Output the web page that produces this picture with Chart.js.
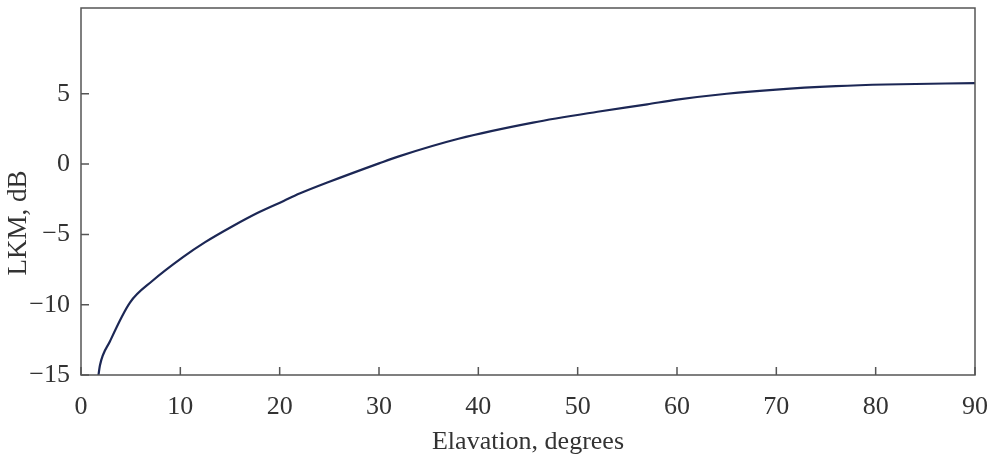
<!DOCTYPE html>
<html>
<head>
<meta charset="utf-8">
<script src="https://cdn.jsdelivr.net/npm/chart.js@4"></script>
<style>
  html, body { margin: 0; padding: 0; background: #fff; }
  #wrap { width: 990px; height: 458px; }
</style>
</head>
<body>
<div id="wrap"><canvas id="chart"></canvas></div>
<script>
// values
const elevation = [1.72, 1.91, 2.92, 4.93, 7.2, 10.3, 12.5, 15.3, 17.8, 20.4, 22, 25, 30, 32, 38, 45.5, 52, 57, 60, 65, 70, 76, 81, 90];
const lkm       = [-15.2, -14.3, -12.6, -9.85, -8.3, -6.6, -5.55, -4.4, -3.46, -2.62, -2.1, -1.26, 0.05, 0.55, 1.8, 2.95, 3.72, 4.25, 4.58, 5.0, 5.3, 5.54, 5.66, 5.76];
const xTicks = [0, 10, 20, 30, 40, 50, 60, 70, 80, 90];
const yTicks = [-15, -10, -5, 0, 5];
const yTitle = 'LKM, dB';

const FONT = '"Liberation Serif", "DejaVu Serif", serif';
const INK = '#333';

// frame round the plot, short inward ticks, rotated y title
const framePlugin = {
    id: 'frame',
    afterDraw(chart) {
        const { ctx, chartArea: a, scales } = chart;
        ctx.save();
        ctx.strokeStyle = '#555';
        ctx.lineWidth = 1.5;
        ctx.strokeRect(a.left, a.top, a.right - a.left, a.bottom - a.top);
        ctx.beginPath();
        for (const v of yTicks) {
            const y = scales.y.getPixelForValue(v);
            ctx.moveTo(a.left, y);
            ctx.lineTo(a.left + 8, y);
        }
        for (const v of xTicks) {
            const x = scales.x.getPixelForValue(v);
            ctx.moveTo(x, a.bottom);
            ctx.lineTo(x, a.bottom - 8);
        }
        ctx.stroke();

        ctx.translate(18.5, 223);
        ctx.rotate(-Math.PI / 2);
        ctx.fillStyle = INK;
        ctx.font = '27px ' + FONT;
        ctx.textAlign = 'center';
        ctx.textBaseline = 'middle';
        ctx.fillText(yTitle, 0, 0);
        ctx.restore();
    },
};

new Chart(document.getElementById('chart'), {
    type: 'line',
    data: {
        datasets: [{
            data: elevation.map((x, i) => ({ x, y: lkm[i] })),
            borderColor: '#1c2755',
            borderWidth: 2.2,
            pointRadius: 0,
            cubicInterpolationMode: 'monotone',
            fill: false,
        }],
    },
    options: {
        responsive: true,
        maintainAspectRatio: false,
        animation: false,
        layout: { padding: { top: 8, right: 15, left: 0, bottom: 0 } },
        plugins: { legend: { display: false }, tooltip: { enabled: false } },
        scales: {
            x: {
                type: 'linear',
                min: 0, max: 90,
                grid: { display: false, drawTicks: false },
                border: { display: false },
                afterBuildTicks(scale) { scale.ticks = xTicks.map(v => ({ value: v })); },
                afterFit(scale) { scale.height = 83; scale.paddingLeft = 0; scale.paddingRight = 0; },
                ticks: { color: INK, padding: 17, font: { family: FONT, size: 26 }, maxRotation: 0 },
                title: { display: true, text: 'Elavation, degrees', color: INK, padding: { top: 0, bottom: 0 }, font: { family: FONT, size: 26 } },
            },
            y: {
                type: 'linear',
                min: -15, max: 11.1,
                grid: { display: false, drawTicks: false },
                border: { display: false },
                afterBuildTicks(scale) { scale.ticks = yTicks.map(v => ({ value: v })); },
                afterFit(scale) { scale.width = 81; scale.paddingTop = 0; scale.paddingBottom = 0; },
                ticks: {
                    color: INK, padding: 11, font: { family: FONT, size: 26 },
                    callback: v => (v < 0 ? '\u2212' + Math.abs(v) : String(v)),
                },
            },
        },
    },
    plugins: [framePlugin],
});
</script>
</body>
</html>
